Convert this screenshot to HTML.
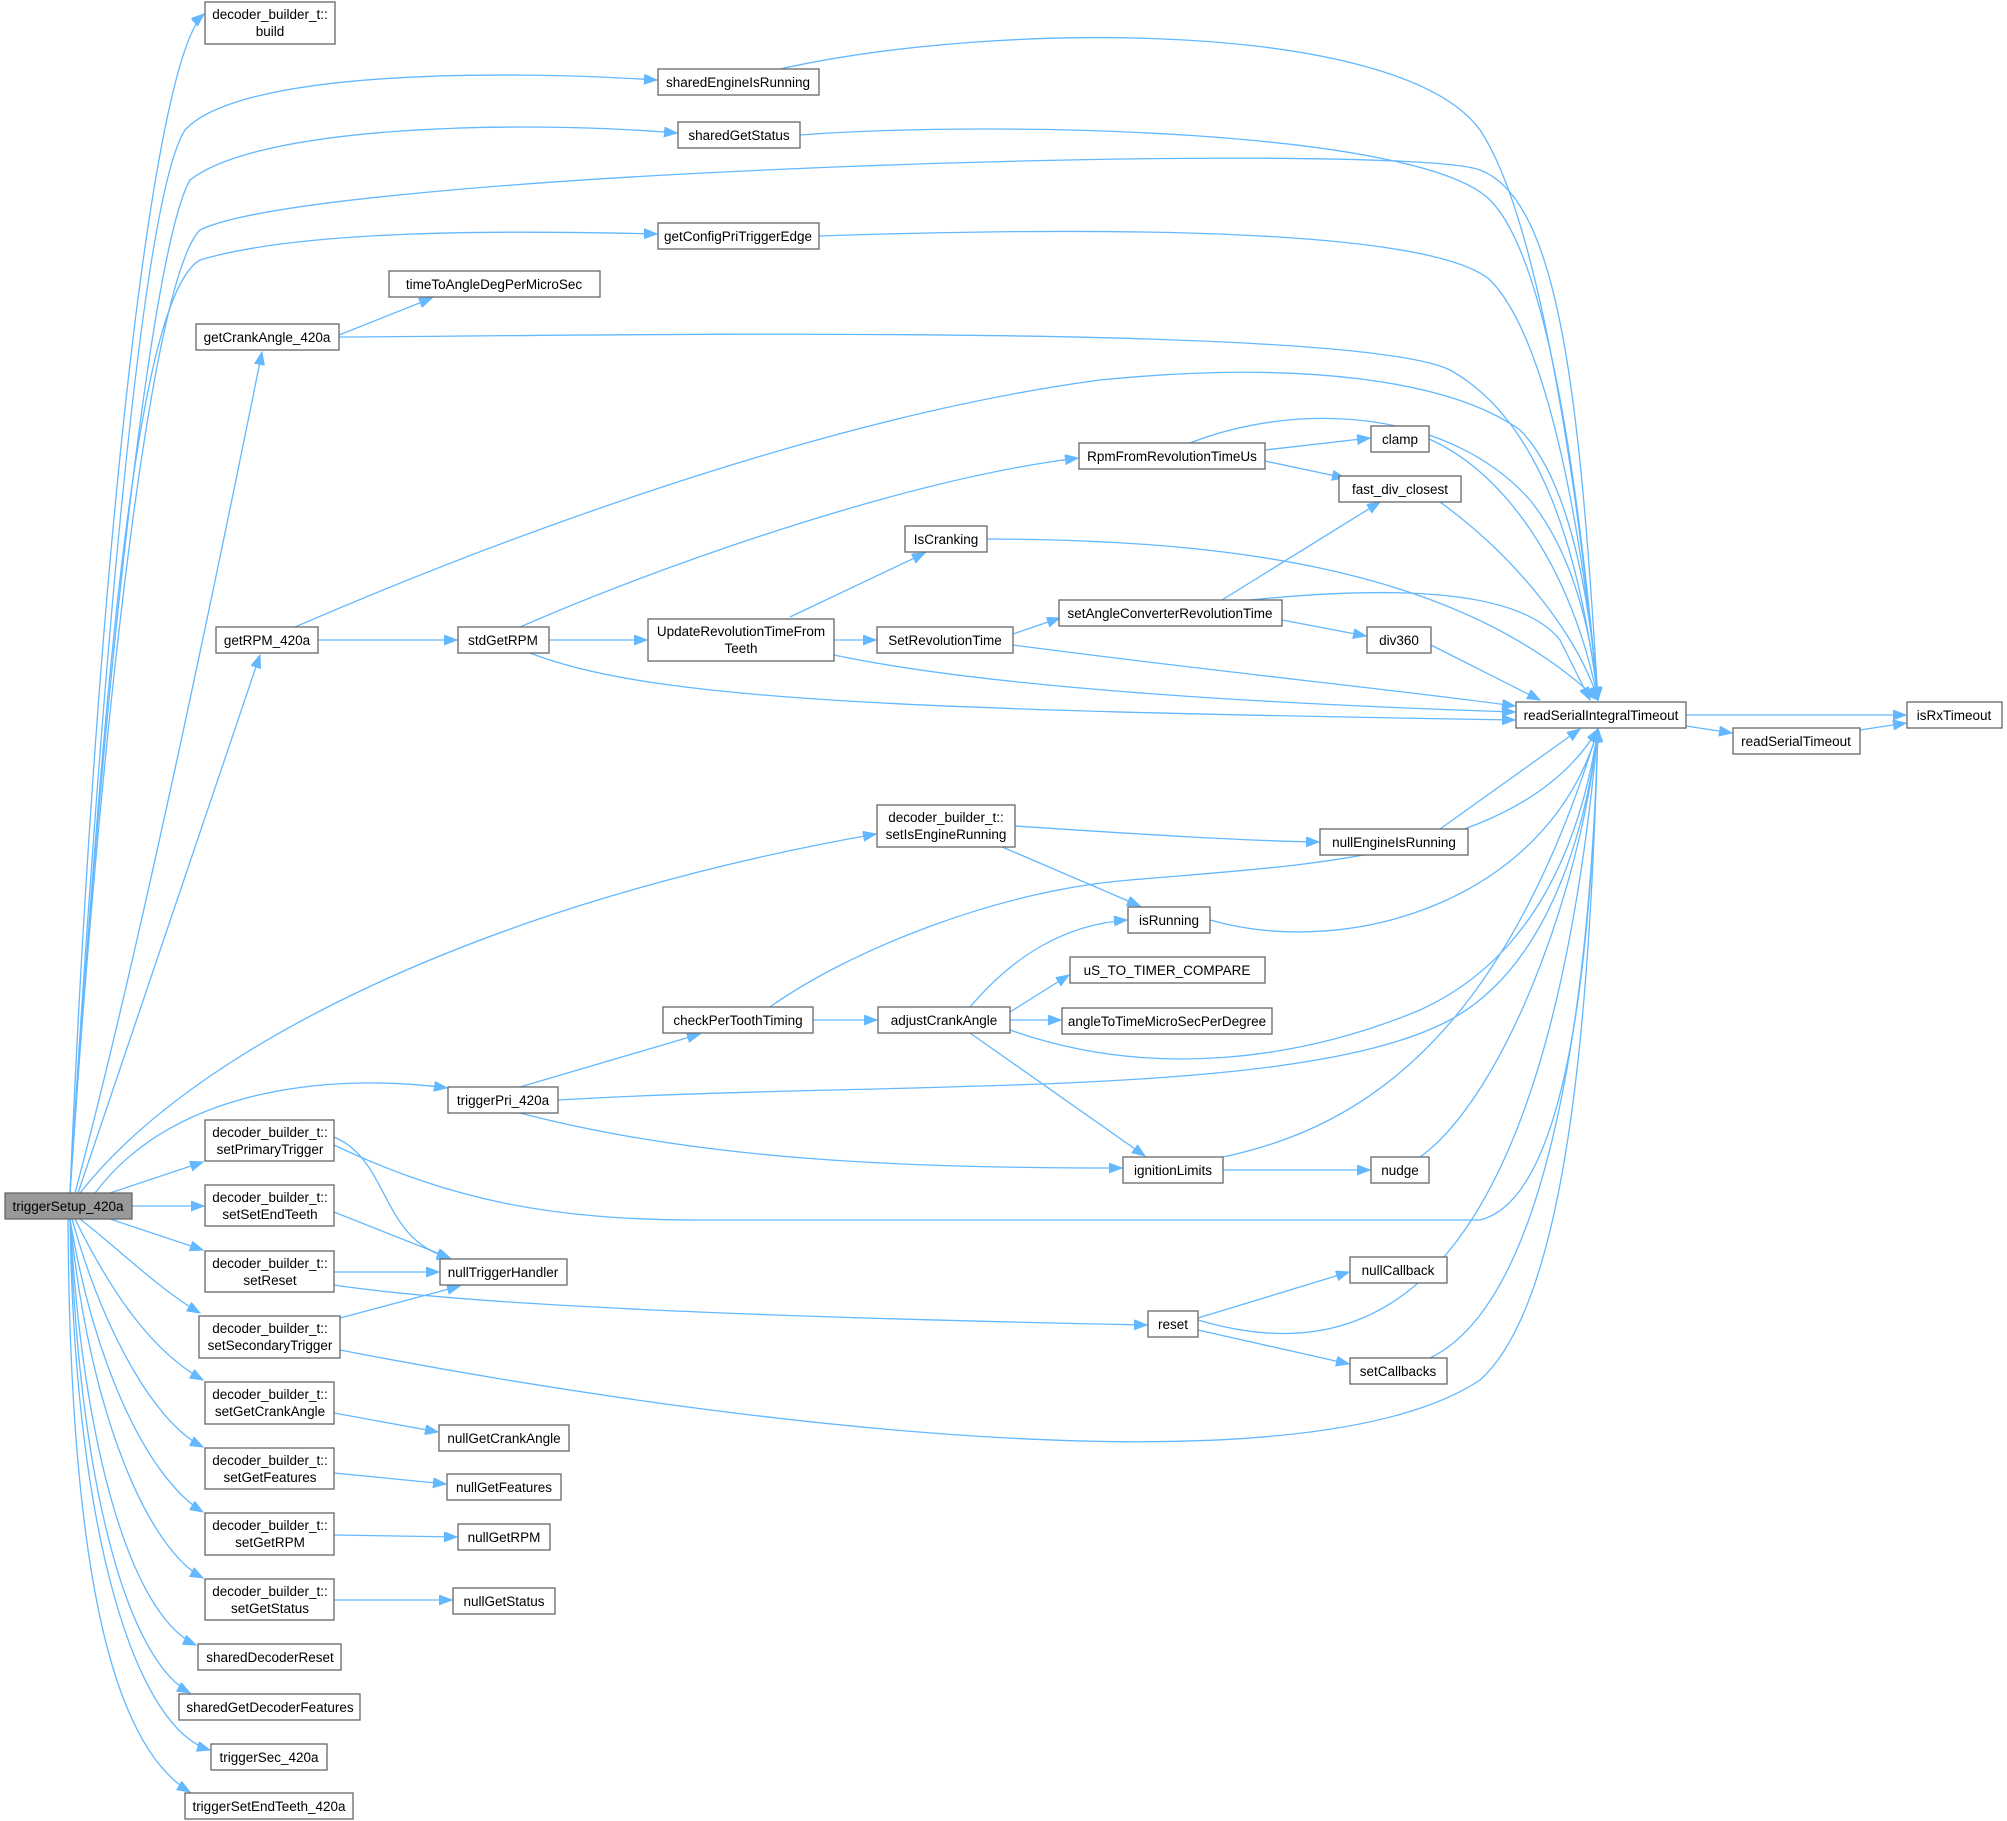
<!DOCTYPE html>
<html><head><meta charset="utf-8"><style>
html,body{margin:0;padding:0;background:#fff;}
svg{display:block;}
text{font-family:"Liberation Sans",Arial,sans-serif;font-size:13.5px;fill:#000;text-anchor:middle;}
.n{fill:#fff;stroke:#666;stroke-width:1.3;}
.e{fill:none;stroke:#63b8ff;stroke-width:1.3;marker-end:url(#a);}
</style></head><body>
<svg width="2007" height="1821" viewBox="0 0 2007 1821" xmlns="http://www.w3.org/2000/svg">
<defs><marker id="a" markerUnits="userSpaceOnUse" markerWidth="14" markerHeight="12" refX="13" refY="5" orient="auto"><path d="M0,0 L13,5 L0,10 z" fill="#63b8ff" stroke="#63b8ff"/></marker></defs>
<g>
<path class="e" d="M110,1193 L203,1162"/>
<path class="e" d="M132,1206 L204,1206"/>
<path class="e" d="M110,1219 L203,1250"/>
<path class="e" d="M80,1219 C120,1250 160,1290 200,1313"/>
<path class="e" d="M75,1219 C110,1290 150,1350 203,1380"/>
<path class="e" d="M72,1219 C100,1320 150,1420 203,1447"/>
<path class="e" d="M70,1219 C95,1370 150,1480 203,1512"/>
<path class="e" d="M70,1219 C90,1420 150,1550 203,1578"/>
<path class="e" d="M70,1219 C85,1480 140,1620 196,1645"/>
<path class="e" d="M70,1219 C80,1500 130,1660 190,1693"/>
<path class="e" d="M70,1219 C75,1550 140,1730 210,1750"/>
<path class="e" d="M68,1219 C70,1600 120,1750 190,1792"/>
<path class="e" d="M70,1193 C95,600 150,60 204,14"/>
<path class="e" d="M70,1193 C100,700 140,200 185,130 C240,70 500,70 657,80"/>
<path class="e" d="M70,1193 C100,720 150,250 190,180 C260,125 520,120 677,133"/>
<path class="e" d="M70,1193 C100,740 150,280 200,230 C320,170 1400,140 1480,170 C1560,200 1580,400 1598,700"/>
<path class="e" d="M70,1193 C100,760 130,300 200,260 C300,230 500,230 657,234"/>
<path class="e" d="M75,1193 C140,950 220,560 262,352"/>
<path class="e" d="M78,1193 L260,655"/>
<path class="e" d="M80,1193 C200,1040 500,900 876,834"/>
<path class="e" d="M95,1193 C180,1080 350,1075 447,1088"/>
<path class="e" d="M339,335 L432,298"/>
<path class="e" d="M339,337 C500,337 1350,320 1450,370 C1540,420 1580,550 1598,700"/>
<path class="e" d="M780,69 C1000,20 1400,20 1480,130 C1540,220 1580,500 1598,700"/>
<path class="e" d="M800,135 C1000,120 1420,130 1490,200 C1550,260 1580,500 1598,700"/>
<path class="e" d="M819,236 C1000,230 1420,220 1490,280 C1550,340 1585,550 1598,700"/>
<path class="e" d="M295,627 C450,560 800,420 1100,380 C1300,360 1450,380 1520,430 C1570,480 1590,600 1598,700"/>
<path class="e" d="M318,640 L457,640"/>
<path class="e" d="M520,627 C650,570 900,480 1078,458"/>
<path class="e" d="M549,640 L647,640"/>
<path class="e" d="M530,653 C650,700 900,710 1515,720"/>
<path class="e" d="M1265,450 L1370,438"/>
<path class="e" d="M1265,461 L1345,478"/>
<path class="e" d="M1190,443 C1300,400 1450,410 1530,500 C1570,550 1590,620 1598,700"/>
<path class="e" d="M1429,439 C1500,470 1570,560 1598,700"/>
<path class="e" d="M1440,502 C1520,560 1580,640 1598,700"/>
<path class="e" d="M987,539 C1200,540 1450,560 1598,700"/>
<path class="e" d="M790,617 L925,553"/>
<path class="e" d="M834,640 L876,640"/>
<path class="e" d="M834,655 C1000,690 1300,705 1515,712"/>
<path class="e" d="M1013,634 L1060,618"/>
<path class="e" d="M1013,645 C1200,670 1400,690 1515,706"/>
<path class="e" d="M1180,626 L1380,502"/>
<path class="e" d="M1282,620 L1366,636"/>
<path class="e" d="M1250,600 C1400,585 1520,590 1560,640 L1590,700"/>
<path class="e" d="M1431,645 L1540,700"/>
<path class="e" d="M1686,715 L1906,715"/>
<path class="e" d="M1686,726 L1732,733"/>
<path class="e" d="M1860,730 L1906,723"/>
<path class="e" d="M1015,826 C1150,835 1250,841 1319,842"/>
<path class="e" d="M1000,846 L1140,906"/>
<path class="e" d="M1440,829 L1580,729"/>
<path class="e" d="M1210,920 C1350,960 1550,900 1598,729"/>
<path class="e" d="M770,1007 C850,950 1000,890 1130,880 C1300,865 1520,860 1598,729"/>
<path class="e" d="M813,1020 L877,1020"/>
<path class="e" d="M970,1007 C1010,960 1060,925 1127,920"/>
<path class="e" d="M1010,1012 L1069,975"/>
<path class="e" d="M1010,1020 L1061,1020"/>
<path class="e" d="M970,1033 L1145,1156"/>
<path class="e" d="M1010,1030 C1150,1080 1300,1060 1420,1010 C1530,960 1580,850 1598,729"/>
<path class="e" d="M520,1087 L700,1034"/>
<path class="e" d="M558,1100 C900,1080 1300,1100 1450,1020 C1560,960 1590,800 1598,729"/>
<path class="e" d="M520,1113 C700,1160 900,1168 1122,1168"/>
<path class="e" d="M1223,1170 L1370,1170"/>
<path class="e" d="M1223,1157 C1350,1130 1500,1050 1598,729"/>
<path class="e" d="M1420,1157 C1500,1100 1580,900 1598,729"/>
<path class="e" d="M334,1137 C390,1160 380,1240 450,1258"/>
<path class="e" d="M334,1145 C450,1200 550,1220 700,1220 L1480,1220 C1560,1200 1590,1000 1598,729"/>
<path class="e" d="M334,1212 L450,1258"/>
<path class="e" d="M334,1272 L439,1272"/>
<path class="e" d="M334,1285 C500,1310 900,1320 1147,1325"/>
<path class="e" d="M340,1318 L460,1286"/>
<path class="e" d="M340,1350 C700,1420 1300,1500 1480,1380 C1570,1300 1590,1000 1598,729"/>
<path class="e" d="M1198,1318 L1349,1272"/>
<path class="e" d="M1198,1330 L1349,1364"/>
<path class="e" d="M1198,1320 C1400,1380 1550,1250 1598,729"/>
<path class="e" d="M1430,1358 C1550,1300 1590,1000 1598,729"/>
<path class="e" d="M334,1413 L438,1432"/>
<path class="e" d="M334,1473 L446,1484"/>
<path class="e" d="M334,1535 L457,1537"/>
<path class="e" d="M334,1600 L452,1600"/>
</g>
<g>
<rect x="5" y="1193" width="127" height="26" fill="#999" stroke="#666" stroke-width="1.3"/><text x="68" y="1211">triggerSetup_420a</text>
<rect class="n" x="205" y="2" width="130" height="42"/><text x="270" y="19">decoder_builder_t::</text><text x="270" y="36">build</text>
<rect class="n" x="658" y="69" width="161" height="26"/><text x="738" y="87">sharedEngineIsRunning</text>
<rect class="n" x="678" y="122" width="122" height="26"/><text x="739" y="140">sharedGetStatus</text>
<rect class="n" x="658" y="223" width="161" height="26"/><text x="738" y="241">getConfigPriTriggerEdge</text>
<rect class="n" x="389" y="271" width="211" height="26"/><text x="494" y="289">timeToAngleDegPerMicroSec</text>
<rect class="n" x="196" y="324" width="143" height="26"/><text x="267" y="342">getCrankAngle_420a</text>
<rect class="n" x="1079" y="443" width="186" height="26"/><text x="1172" y="461">RpmFromRevolutionTimeUs</text>
<rect class="n" x="1371" y="426" width="58" height="26"/><text x="1400" y="444">clamp</text>
<rect class="n" x="1339" y="476" width="122" height="26"/><text x="1400" y="494">fast_div_closest</text>
<rect class="n" x="905" y="526" width="82" height="26"/><text x="946" y="544">IsCranking</text>
<rect class="n" x="648" y="619" width="186" height="42"/><text x="741" y="636">UpdateRevolutionTimeFrom</text><text x="741" y="653">Teeth</text>
<rect class="n" x="216" y="627" width="102" height="26"/><text x="267" y="645">getRPM_420a</text>
<rect class="n" x="458" y="627" width="91" height="26"/><text x="503" y="645">stdGetRPM</text>
<rect class="n" x="877" y="627" width="136" height="26"/><text x="945" y="645">SetRevolutionTime</text>
<rect class="n" x="1059" y="600" width="223" height="26"/><text x="1170" y="618">setAngleConverterRevolutionTime</text>
<rect class="n" x="1367" y="627" width="64" height="26"/><text x="1399" y="645">div360</text>
<rect class="n" x="1516" y="702" width="170" height="26"/><text x="1601" y="720">readSerialIntegralTimeout</text>
<rect class="n" x="1907" y="702" width="95" height="26"/><text x="1954" y="720">isRxTimeout</text>
<rect class="n" x="1733" y="728" width="127" height="26"/><text x="1796" y="746">readSerialTimeout</text>
<rect class="n" x="877" y="805" width="138" height="42"/><text x="946" y="822">decoder_builder_t::</text><text x="946" y="839">setIsEngineRunning</text>
<rect class="n" x="1320" y="829" width="148" height="26"/><text x="1394" y="847">nullEngineIsRunning</text>
<rect class="n" x="1128" y="907" width="82" height="26"/><text x="1169" y="925">isRunning</text>
<rect class="n" x="1070" y="957" width="195" height="26"/><text x="1167" y="975">uS_TO_TIMER_COMPARE</text>
<rect class="n" x="1062" y="1008" width="210" height="26"/><text x="1167" y="1026">angleToTimeMicroSecPerDegree</text>
<rect class="n" x="663" y="1007" width="150" height="26"/><text x="738" y="1025">checkPerToothTiming</text>
<rect class="n" x="878" y="1007" width="132" height="26"/><text x="944" y="1025">adjustCrankAngle</text>
<rect class="n" x="448" y="1087" width="110" height="26"/><text x="503" y="1105">triggerPri_420a</text>
<rect class="n" x="1123" y="1157" width="100" height="26"/><text x="1173" y="1175">ignitionLimits</text>
<rect class="n" x="1371" y="1157" width="58" height="26"/><text x="1400" y="1175">nudge</text>
<rect class="n" x="205" y="1120" width="129" height="41"/><text x="270" y="1137">decoder_builder_t::</text><text x="270" y="1154">setPrimaryTrigger</text>
<rect class="n" x="205" y="1185" width="129" height="41"/><text x="270" y="1202">decoder_builder_t::</text><text x="270" y="1219">setSetEndTeeth</text>
<rect class="n" x="205" y="1251" width="129" height="41"/><text x="270" y="1268">decoder_builder_t::</text><text x="270" y="1285">setReset</text>
<rect class="n" x="199" y="1316" width="141" height="42"/><text x="270" y="1333">decoder_builder_t::</text><text x="270" y="1350">setSecondaryTrigger</text>
<rect class="n" x="205" y="1382" width="129" height="42"/><text x="270" y="1399">decoder_builder_t::</text><text x="270" y="1416">setGetCrankAngle</text>
<rect class="n" x="205" y="1448" width="129" height="41"/><text x="270" y="1465">decoder_builder_t::</text><text x="270" y="1482">setGetFeatures</text>
<rect class="n" x="205" y="1513" width="129" height="42"/><text x="270" y="1530">decoder_builder_t::</text><text x="270" y="1547">setGetRPM</text>
<rect class="n" x="205" y="1579" width="129" height="41"/><text x="270" y="1596">decoder_builder_t::</text><text x="270" y="1613">setGetStatus</text>
<rect class="n" x="198" y="1644" width="143" height="26"/><text x="270" y="1662">sharedDecoderReset</text>
<rect class="n" x="179" y="1694" width="181" height="26"/><text x="270" y="1712">sharedGetDecoderFeatures</text>
<rect class="n" x="211" y="1744" width="116" height="26"/><text x="269" y="1762">triggerSec_420a</text>
<rect class="n" x="185" y="1793" width="168" height="26"/><text x="269" y="1811">triggerSetEndTeeth_420a</text>
<rect class="n" x="440" y="1259" width="127" height="26"/><text x="503" y="1277">nullTriggerHandler</text>
<rect class="n" x="1148" y="1311" width="50" height="26"/><text x="1173" y="1329">reset</text>
<rect class="n" x="1350" y="1257" width="97" height="26"/><text x="1398" y="1275">nullCallback</text>
<rect class="n" x="1350" y="1358" width="97" height="26"/><text x="1398" y="1376">setCallbacks</text>
<rect class="n" x="439" y="1425" width="130" height="26"/><text x="504" y="1443">nullGetCrankAngle</text>
<rect class="n" x="447" y="1474" width="114" height="26"/><text x="504" y="1492">nullGetFeatures</text>
<rect class="n" x="458" y="1524" width="92" height="26"/><text x="504" y="1542">nullGetRPM</text>
<rect class="n" x="453" y="1588" width="102" height="26"/><text x="504" y="1606">nullGetStatus</text>
</g>
</svg>
</body></html>
